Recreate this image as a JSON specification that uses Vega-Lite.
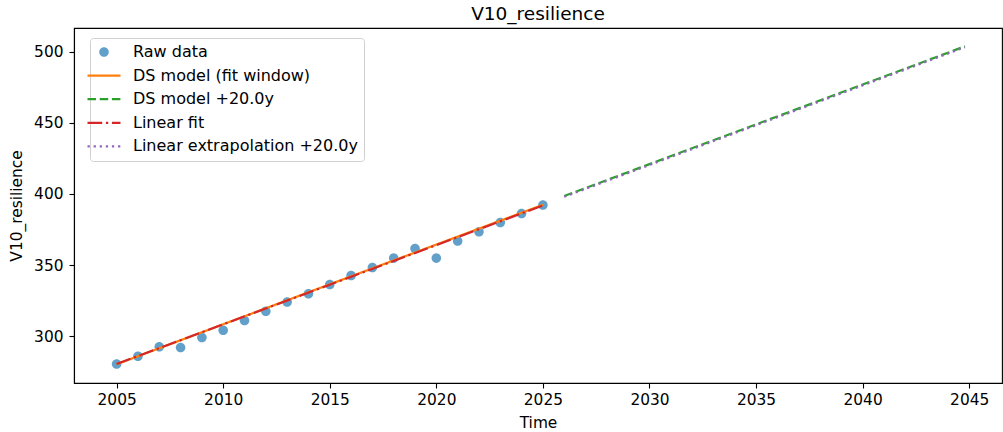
{
  "$schema": "https://vega.github.io/schema/vega-lite/v6.json",
  "width": 928,
  "height": 355,
  "autosize": "none",
  "padding": {"left": 74, "top": 28, "right": 1, "bottom": 49},
  "background": "white",
  "config": {
    "font": "DejaVu Sans",
    "view": {"stroke": "black", "strokeWidth": 1.1},
    "axis": {"grid": false, "domainColor": "black", "tickColor": "black", "labelColor": "black", "titleColor": "black", "labelFontSize": 15.4, "titleFontSize": 15.4, "titleFontWeight": "normal", "tickSize": 5, "tickWidth": 1.1, "domainWidth": 1.1, "labelFont": "DejaVu Sans", "titleFont": "DejaVu Sans"},
    "title": {"font": "DejaVu Sans", "fontSize": 18.5, "fontWeight": "normal", "color": "black", "offset": 5}
  },
  "title": "V10_resilience",
  "datasets": {
    "raw": [
      {"series": "Raw data", "t": 2005, "v": 280.5},
      {"series": "Raw data", "t": 2006, "v": 285.9},
      {"series": "Raw data", "t": 2007, "v": 292.6},
      {"series": "Raw data", "t": 2008, "v": 292.0},
      {"series": "Raw data", "t": 2009, "v": 299.1},
      {"series": "Raw data", "t": 2010, "v": 304.2},
      {"series": "Raw data", "t": 2011, "v": 311.0},
      {"series": "Raw data", "t": 2012, "v": 317.6},
      {"series": "Raw data", "t": 2013, "v": 324.1},
      {"series": "Raw data", "t": 2014, "v": 329.8},
      {"series": "Raw data", "t": 2015, "v": 336.4},
      {"series": "Raw data", "t": 2016, "v": 342.7},
      {"series": "Raw data", "t": 2017, "v": 348.3},
      {"series": "Raw data", "t": 2018, "v": 354.9},
      {"series": "Raw data", "t": 2019, "v": 361.7},
      {"series": "Raw data", "t": 2020, "v": 354.9},
      {"series": "Raw data", "t": 2021, "v": 367.0},
      {"series": "Raw data", "t": 2022, "v": 373.4},
      {"series": "Raw data", "t": 2023, "v": 380.0},
      {"series": "Raw data", "t": 2024, "v": 386.3},
      {"series": "Raw data", "t": 2025, "v": 392.2}
    ],
    "ds": [
      {"series": "DS model (fit window)", "t": 2005, "v": 280.3},
      {"series": "DS model (fit window)", "t": 2015, "v": 336.5},
      {"series": "DS model (fit window)", "t": 2025, "v": 392.4}
    ],
    "dsx": [
      {"series": "DS model +20.0y", "t": 2026, "v": 398.6},
      {"series": "DS model +20.0y", "t": 2044.8, "v": 503.8}
    ],
    "lin": [
      {"series": "Linear fit", "t": 2005, "v": 280.5},
      {"series": "Linear fit", "t": 2025, "v": 391.9}
    ],
    "linx": [
      {"series": "Linear extrapolation +20.0y", "t": 2026, "v": 398.0},
      {"series": "Linear extrapolation +20.0y", "t": 2044.8, "v": 503.2}
    ]
  },
  "encoding": {
    "x": {"field": "t", "type": "quantitative", "title": "Time",
      "scale": {"domain": [2003.0, 2046.54], "nice": false, "zero": false},
      "axis": {"values": [2005, 2010, 2015, 2020, 2025, 2030, 2035, 2040, 2045], "format": "d", "labelPadding": 4, "titlePadding": 8}},
    "y": {"field": "v", "type": "quantitative", "title": "V10_resilience",
      "scale": {"domain": [267.1, 516.7], "nice": false, "zero": false},
      "axis": {"values": [300, 350, 400, 450, 500], "format": "d", "labelPadding": 6, "titlePadding": 9}},
    "color": {"field": "series", "type": "nominal", "title": null,
      "scale": {"domain": ["Raw data", "DS model (fit window)", "DS model +20.0y", "Linear fit", "Linear extrapolation +20.0y"],
        "range": ["#1f77b4", "#ff7f0e", "#2ca02c", "#d62728", "#9467bd"]},
      "legend": {
        "orient": "none", "legendX": 16, "legendY": 10, "padding": 6, "cornerRadius": 3,
        "strokeColor": "#d0d0d0", "fillColor": "white",
        "labelFontSize": 16, "labelFont": "DejaVu Sans", "labelColor": "black", "labelOffset": 21, "labelLimit": 0,
        "symbolSize": 1089, "rowPadding": 7.6,
        "encode": {"symbols": {"update": {
          "fill": {"signal": "datum.value === 'Raw data' ? '#1f77b4' : 'transparent'"},
          "opacity": {"signal": "datum.value === 'Raw data' ? 0.7 : 1"},
          "strokeWidth": {"signal": "datum.value === 'Raw data' ? 0 : 2.2"}
        }}}
      }},
    "strokeDash": {"field": "series", "type": "nominal", "title": null,
      "scale": {"domain": ["Raw data", "DS model (fit window)", "DS model +20.0y", "Linear fit", "Linear extrapolation +20.0y"],
        "range": [[1, 0], [1, 0], [8.5, 3.7], [14.7, 3.7, 2.3, 3.7], [2.3, 3.8]]}}
  },
  "layer": [
    {
      "data": {"name": "raw"},
      "mark": {"type": "point", "filled": true, "opacity": 0.7, "size": 1089},
      "encoding": {
        "shape": {"field": "series", "type": "nominal", "title": null,
          "scale": {"domain": ["Raw data", "DS model (fit window)", "DS model +20.0y", "Linear fit", "Linear extrapolation +20.0y"],
            "range": ["M-0.29,0A0.29,0.29,0,1,1,0.29,0A0.29,0.29,0,1,1,-0.29,0Z", "M-1,0L1,0", "M-1,0L1,0", "M-1,0L1,0", "M-1,0L1,0"]}}
      }
    },
    {"data": {"name": "ds"}, "mark": {"type": "line", "strokeWidth": 2.2}},
    {"data": {"name": "dsx"}, "mark": {"type": "line", "strokeWidth": 2.2}},
    {"data": {"name": "lin"}, "mark": {"type": "line", "strokeWidth": 2.2}},
    {"data": {"name": "linx"}, "mark": {"type": "line", "strokeWidth": 2.2}}
  ]
}
